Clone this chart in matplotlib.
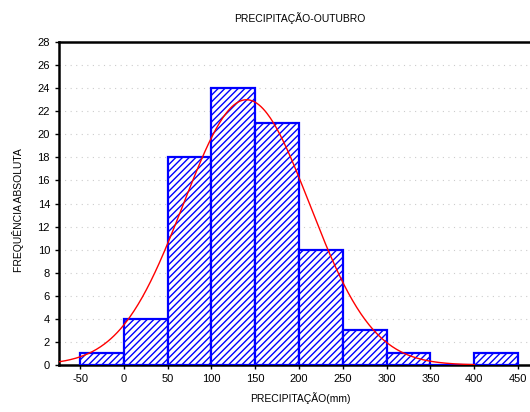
import numpy as np
import matplotlib
matplotlib.use("Agg")
import matplotlib.pyplot as plt

plt.rcParams['font.family'] = ['Liberation Sans', 'DejaVu Sans']
plt.rcParams['axes.unicode_minus'] = False
plt.rcParams['hatch.linewidth'] = 1.0

# classes de precipitacao (mm) e frequencias
bin_left = [-50, 0, 50, 100, 150, 200, 250, 300, 350, 400]
freq = [1, 4, 18, 24, 21, 10, 3, 1, 0, 1]
bin_width = 50
# normal ajustada (media e desvio estimados)
media = 140
desvio = 72
xticks = [-50, 0, 50, 100, 150, 200, 250, 300, 350, 400, 450]
yticks = list(range(0, 29, 2))

fig = plt.figure(figsize=(5.3, 4.12), dpi=100)
ax = fig.add_axes([59/530, 1-365/412, 481/530, 323/412])

ax.bar(bin_left, freq, width=bin_width, align='edge', facecolor='white',
       edgecolor='#0000ff', linewidth=1.6, hatch='/'*5, zorder=3)

n = sum(freq)
xc = np.linspace(-74, 400, 400)
yc = n*bin_width/(desvio*np.sqrt(2*np.pi))*np.exp(-0.5*((xc-media)/desvio)**2)
ax.plot(xc, yc, color='red', linewidth=1, zorder=4)

ax.set_xlim(-74, 475)
ax.set_ylim(0, 28)
ax.set_xticks(xticks)
ax.set_yticks(yticks)
ax.tick_params(labelsize=8, length=3, width=1, direction='out')
ax.grid(axis='y', color='#cccccc', linestyle=(0, (1, 4)), linewidth=0.8, zorder=0)
for s in ['left', 'bottom', 'top']:
    ax.spines[s].set_linewidth(1.8)
ax.spines['right'].set_visible(False)

fig.text(300/530, 1-18/412, 'PRECIPITAÇÃO-OUTUBRO', ha='center', va='center', fontsize=7.5)
fig.text(300/530, 1-398/412, 'PRECIPITAÇÃO(mm)', ha='center', va='center', fontsize=7.5)
fig.text(18/530, 1-210/412, 'FREQUÊNCIA ABSOLUTA', ha='center', va='center',
         rotation=90, fontsize=7.5)

fig.savefig('out.png', dpi=100)
